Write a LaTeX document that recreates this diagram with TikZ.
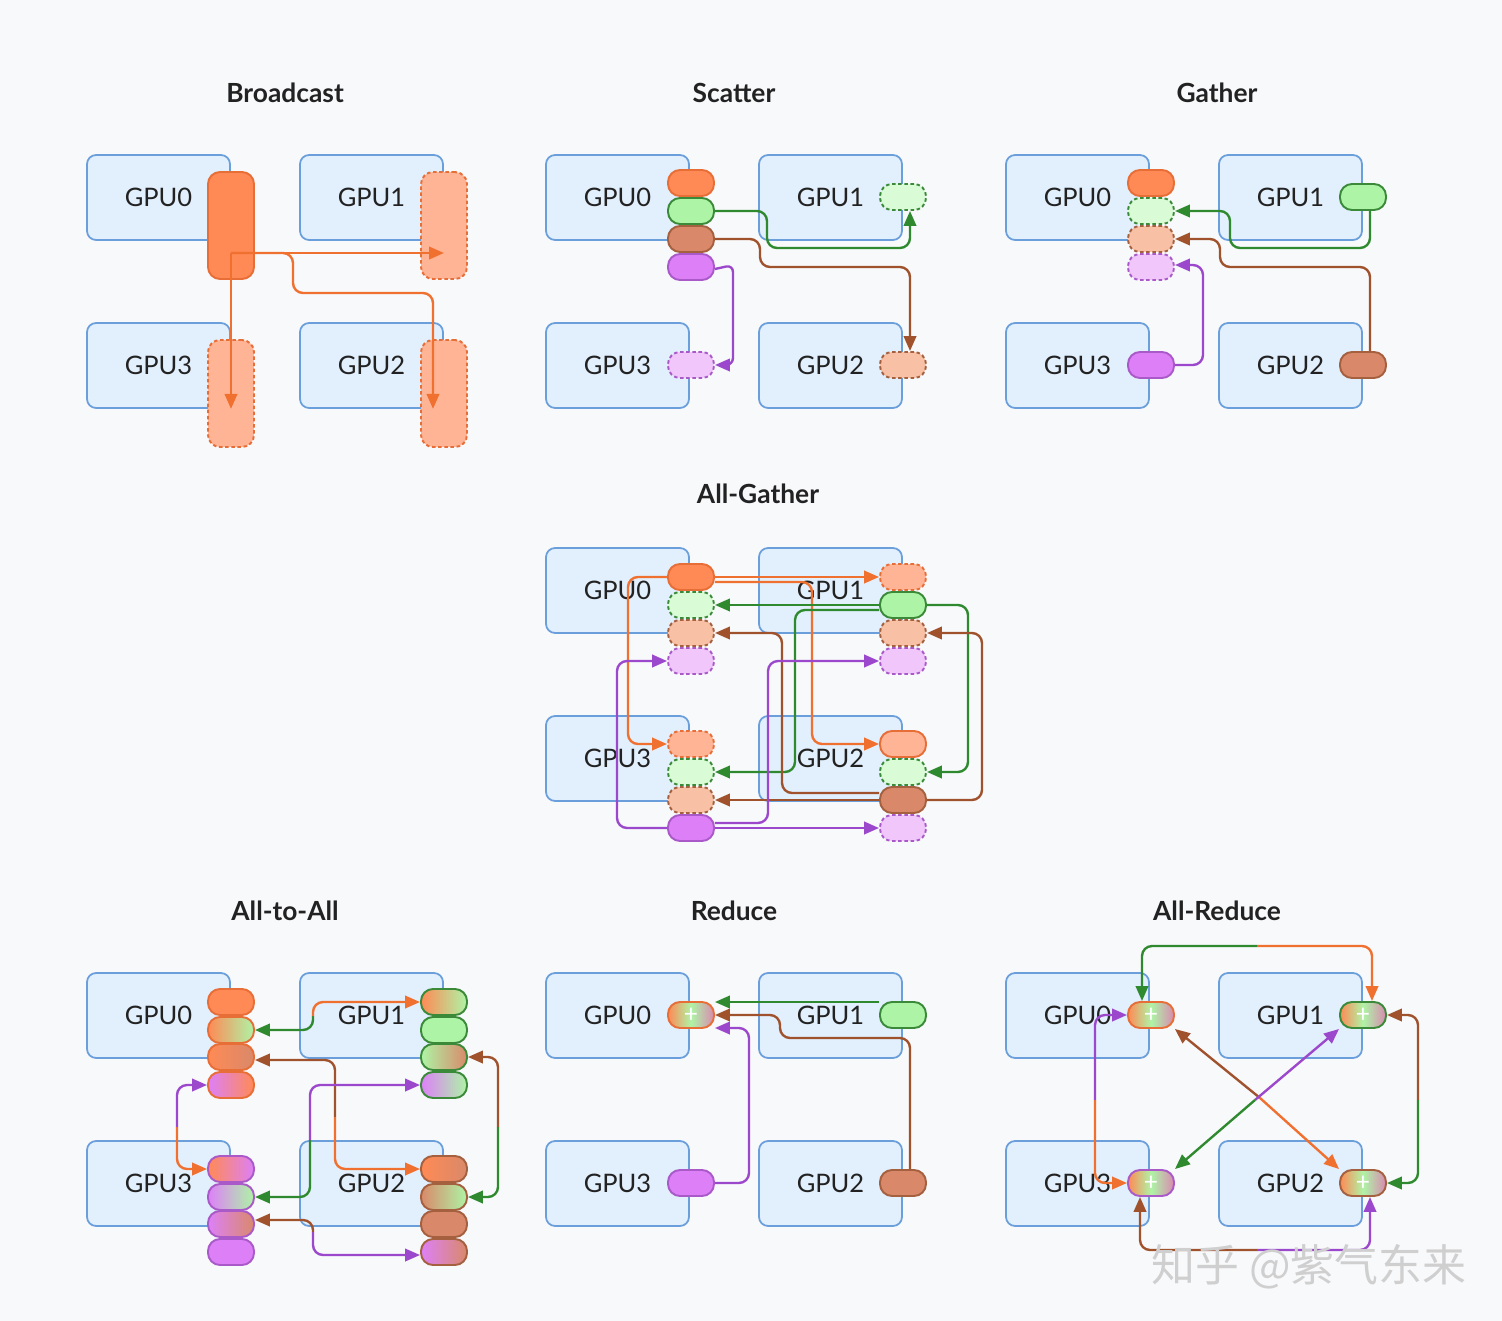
\documentclass[tikz,border=0pt]{standalone}
\usepackage{fontspec}
\setmainfont{Lato}
\newfontfamily\cjk{Noto Sans CJK SC}
\usetikzlibrary{arrows.meta}

\definecolor{bgcol}{HTML}{F8F9FB}
\definecolor{gpufill}{HTML}{E2EFFC}
\definecolor{gpudraw}{HTML}{6A9FDC}
\definecolor{txtcol}{HTML}{222222}
\definecolor{forange}{HTML}{FF8A55}
\definecolor{borange}{HTML}{E86E38}
\definecolor{forangel}{HTML}{FFB496}
\definecolor{fgreen}{HTML}{AEF4A6}
\definecolor{bgreen}{HTML}{3A8A3A}
\definecolor{fgreenl}{HTML}{D9FBD5}
\definecolor{fbrown}{HTML}{D9896A}
\definecolor{bbrown}{HTML}{A4603F}
\definecolor{fbrownl}{HTML}{F8C0A4}
\definecolor{fpurple}{HTML}{DD80F8}
\definecolor{bpurple}{HTML}{A95AC8}
\definecolor{fpurplel}{HTML}{F0C6FB}
\definecolor{fsumr}{HTML}{D98AB0}
\definecolor{aorange}{HTML}{F07030}
\definecolor{agreen}{HTML}{2F8A2F}
\definecolor{abrown}{HTML}{A0522D}
\definecolor{apurple}{HTML}{9C48CC}
\definecolor{wmgray}{HTML}{CFCFCF}

\pgfdeclarehorizontalshading{sumgrad}{100bp}{color(0bp)=(forange); color(25bp)=(forange); color(50bp)=(fgreen); color(75bp)=(fsumr); color(100bp)=(fsumr)}

\begin{document}
\begin{tikzpicture}[x=0.02cm,y=-0.02cm,
	gpu/.style={draw=gpudraw, fill=gpufill, line width=1pt, rounded corners=0.18cm, minimum width=2.86cm, minimum height=1.7cm, text=txtcol, font=\fontsize{14.5}{17}\selectfont},
	title/.style={text=txtcol, font=\bfseries\fontsize{15}{18}\selectfont},
	chunk/.style={line width=1.1pt, rounded corners=0.24cm, minimum width=0.92cm, minimum height=0.52cm, inner sep=0pt},
	bigchunk/.style={minimum height=2.14cm},
	ochunk/.style={chunk, draw=borange, fill=forange},
	gchunk/.style={chunk, draw=bgreen, fill=fgreen},
	bchunk/.style={chunk, draw=bbrown, fill=fbrown},
	pchunk/.style={chunk, draw=bpurple, fill=fpurple},
	orecv/.style={chunk, draw=borange, fill=forangel, dash pattern=on 2pt off 1.5pt},
	grecv/.style={chunk, draw=bgreen, fill=fgreenl, dash pattern=on 2pt off 1.5pt},
	brecv/.style={chunk, draw=bbrown, fill=fbrownl, dash pattern=on 2pt off 1.5pt},
	precv/.style={chunk, draw=bpurple, fill=fpurplel, dash pattern=on 2pt off 1.5pt},
	sumchunk/.style={chunk, shade, shading=sumgrad, text=white, font=\fontsize{14}{14}\selectfont},
	arr/.style={line width=1.35pt, rounded corners=0.2cm, -{Triangle[length=0.3cm,width=0.25cm]}}]

	\fill[bgcol] (0,0) rectangle (1502,1321);
	\useasboundingbox (0,0) rectangle (1502,1321);

	% titles
	\node[title] (tbc) at (285,93) {Broadcast};
	\node[title] (tsc) at (734,93) {Scatter};
	\node[title] (tga) at (1217,93) {Gather};
	\node[title] (tag) at (758,494) {All-Gather};
	\node[title] (taa) at (285,911) {All-to-All};
	\node[title] (tre) at (734,911) {Reduce};
	\node[title] (tar) at (1217,911) {All-Reduce};

	% gpu boxes of every panel
	\foreach \p/\dx/\dy in {bc/0/0, sc/459/0, ga/919/0, ag/459/393, aa/0/818, re/459/818, ar/919/818} {
		\node[gpu] (\p0) at (158.5+\dx,197.5+\dy) {GPU0};
		\node[gpu] (\p1) at (371.5+\dx,197.5+\dy) {GPU1};
		\node[gpu] (\p2) at (371.5+\dx,365.5+\dy) {GPU2};
		\node[gpu] (\p3) at (158.5+\dx,365.5+\dy) {GPU3};
	}

	% Broadcast
	\node[ochunk,bigchunk] (bc0o) at (231,225.5) {};
	\node[orecv,bigchunk] (bc1o) at (444,225.5) {};
	\node[orecv,bigchunk] (bc3o) at (231,393.5) {};
	\node[orecv,bigchunk] (bc2o) at (444,393.5) {};
	\coordinate (bcsrc) at (231,253);
	\draw[arr,aorange] (bcsrc) -- (bc1o.center |- bcsrc);
	\draw[arr,aorange] (bcsrc) -- (bc3o.center |- bc3.south);
	\draw[arr,aorange] (bcsrc) -- (293,253) -- (293,293) -- (433,293) -- ([xshift=-0.22cm]bc2o.center |- bc2.south);

	% Scatter
	\node[ochunk] (sc0o) at (691,183) {};
	\node[gchunk] (sc0g) at (691,211) {};
	\node[bchunk] (sc0b) at (691,239) {};
	\node[pchunk] (sc0p) at (691,267) {};
	\node[grecv] (sc1g) at (903,197) {};
	\node[brecv] (sc2b) at (903,365) {};
	\node[precv] (sc3p) at (691,365) {};
	\draw[arr,agreen] (sc0g.east) -- (767,211) -- (767,248) -| ([xshift=0.14cm]sc1g.south);
	\draw[arr,abrown] (sc0b.east) -- (760,239) -- (760,267) -| ([xshift=0.14cm]sc2b.north);
	\draw[arr,apurple,rounded corners=0.14cm] ([yshift=-0.04cm]sc0p.east) -- (733,265) |- (sc3p.east);

	% Gather
	\node[ochunk] (ga0o) at (1151,183) {};
	\node[grecv] (ga0g) at (1151,211) {};
	\node[brecv] (ga0b) at (1151,239) {};
	\node[precv] (ga0p) at (1151,267) {};
	\node[gchunk] (ga1g) at (1363,197) {};
	\node[bchunk] (ga2b) at (1363,365) {};
	\node[pchunk] (ga3p) at (1151,365) {};
	\draw[arr,agreen] ([xshift=0.14cm]ga1g.south) |- (1230,248) -- (1230,211) -- (ga0g.east);
	\draw[arr,abrown] ([xshift=0.14cm]ga2b.north) |- (1220,267) -- (1220,239) -- (ga0b.east);
	\draw[arr,apurple] (ga3p.east) -- (1203,365) -- (1203,265) -- ([yshift=0.04cm]ga0p.east);

	% All-Gather
	\node[ochunk] (ag0o) at (691,577) {};
	\node[grecv] (ag0g) at (691,605) {};
	\node[brecv] (ag0b) at (691,633) {};
	\node[precv] (ag0p) at (691,661) {};
	\node[orecv] (ag1o) at (903,577) {};
	\node[gchunk] (ag1g) at (903,605) {};
	\node[brecv] (ag1b) at (903,633) {};
	\node[precv] (ag1p) at (903,661) {};
	\node[orecv] (ag3o) at (691,744) {};
	\node[grecv] (ag3g) at (691,772) {};
	\node[brecv] (ag3b) at (691,800) {};
	\node[pchunk] (ag3p) at (691,828) {};
	\node[chunk,draw=borange,fill=forangel] (ag2o) at (903,744) {};
	\node[grecv] (ag2g) at (903,772) {};
	\node[bchunk] (ag2b) at (903,800) {};
	\node[precv] (ag2p) at (903,828) {};
	\draw[arr,aorange] (ag0o.east) -- (ag1o.west);
	\draw[arr,aorange] ([yshift=-0.1cm]ag0o.east) -- (812,582) -- (812,744) -- (ag2o.west);
	\draw[arr,aorange] (ag0o.west) -- (628,577) -- (628,744) -- (ag3o.west);
	\draw[arr,agreen] (ag1g.west) -- (ag0g.east);
	\draw[arr,agreen] ([yshift=-0.1cm]ag1g.west) -- (795,610) -- (795,772) -- (ag3g.east);
	\draw[arr,agreen] (ag1g.east) -- (968,605) -- (968,772) -- (ag2g.east);
	\draw[arr,abrown] (ag2b.west) -- (ag3b.east);
	\draw[arr,abrown] ([yshift=0.14cm]ag2b.west) -- (782,793) -- (782,633) -- (ag0b.east);
	\draw[arr,abrown] (ag2b.east) -- (982,800) -- (982,633) -- (ag1b.east);
	\draw[arr,apurple] (ag3p.east) -- (ag2p.west);
	\draw[arr,apurple] (ag3p.west) -- (617,828) -- (617,661) -- (ag0p.west);
	\draw[arr,apurple] ([yshift=0.1cm]ag3p.east) -- (768,823) -- (768,661) -- (ag1p.west);

	% All-to-All
	\node[ochunk] (aa00) at (231,1002) {};
	\node[chunk,draw=borange,left color=forange,right color=fgreen] (aa01) at (231,1030) {};
	\node[chunk,draw=borange,left color=forange,right color=fbrown] (aa02) at (231,1057) {};
	\node[chunk,draw=borange,left color=fpurple,right color=forange] (aa03) at (231,1085) {};
	\node[chunk,draw=bgreen,left color=forange,right color=fgreen] (aa10) at (444,1002) {};
	\node[gchunk] (aa11) at (444,1030) {};
	\node[chunk,draw=bgreen,left color=fgreen,right color=fbrown] (aa12) at (444,1057) {};
	\node[chunk,draw=bgreen,left color=fpurple,right color=fgreen] (aa13) at (444,1085) {};
	\node[chunk,draw=bbrown,left color=forange,right color=fbrown] (aa20) at (444,1169) {};
	\node[chunk,draw=bbrown,left color=fbrown,right color=fgreen] (aa21) at (444,1197) {};
	\node[bchunk] (aa22) at (444,1224) {};
	\node[chunk,draw=bbrown,left color=fpurple,right color=fbrown] (aa23) at (444,1252) {};
	\node[chunk,draw=bpurple,left color=forange,right color=fpurple] (aa30) at (231,1169) {};
	\node[chunk,draw=bpurple,left color=fpurple,right color=fgreen] (aa31) at (231,1197) {};
	\node[chunk,draw=bpurple,left color=fpurple,right color=fbrown] (aa32) at (231,1224) {};
	\node[pchunk] (aa33) at (231,1252) {};
	\coordinate (aam1) at (313,1016);
	\coordinate (aam2) at (335,1117);
	\coordinate (aam3) at (177,1127);
	\coordinate (aam4) at (310,1140);
	\coordinate (aam5) at (498,1127);
	\coordinate (aam6) at (313,1232);
	\draw[arr,agreen] (aam1) -- (313,1030) -- (aa01.east);
	\draw[arr,aorange] (aam1) -- (313,1002) -- (aa10.west);
	\draw[arr,abrown] (aam2) -- (335,1060) -- ([yshift=-0.06cm]aa02.east);
	\draw[arr,aorange] (aam2) -- (335,1169) -- (aa20.west);
	\draw[arr,apurple] (aam3) -- (177,1085) -- (aa03.west);
	\draw[arr,aorange] (aam3) -- (177,1169) -- (aa30.west);
	\draw[arr,agreen] (aam4) -- (310,1197) -- (aa31.east);
	\draw[arr,apurple] (aam4) -- (310,1085) -- (aa13.west);
	\draw[arr,abrown] (aam5) -- (498,1057) -- (aa12.east);
	\draw[arr,agreen] (aam5) -- (498,1197) -- (aa21.east);
	\draw[arr,abrown] (aam6) -- (313,1220) -- ([yshift=0.08cm]aa32.east);
	\draw[arr,apurple] (aam6) -- (313,1255) -- ([yshift=-0.06cm]aa23.west);

	% Reduce
	\node[sumchunk,draw=borange] (re0s) at (691,1015) {+};
	\node[gchunk] (re1g) at (903,1015) {};
	\node[bchunk] (re2b) at (903,1183) {};
	\node[pchunk] (re3p) at (691,1183) {};
	\draw[arr,agreen] ([yshift=0.26cm]re1g.west) -- ([yshift=0.26cm]re0s.east);
	\draw[arr,abrown] ([xshift=0.14cm]re2b.north) |- (780,1038) -- (780,1015) -- (re0s.east);
	\draw[arr,apurple] (re3p.east) -- (749,1183) -- (749,1028) -- ([yshift=-0.26cm]re0s.east);

	% All-Reduce
	\node[sumchunk,draw=borange] (ar0s) at (1151,1015) {+};
	\node[sumchunk,draw=bgreen] (ar1s) at (1363,1015) {+};
	\node[sumchunk,draw=bbrown] (ar2s) at (1363,1183) {+};
	\node[sumchunk,draw=bpurple] (ar3s) at (1151,1183) {+};
	\coordinate (arm1) at (1257,946);
	\coordinate (arm2) at (1095,1100);
	\coordinate (arm3) at (1418,1100);
	\coordinate (arm4) at (1257,1250);
	\coordinate (arm5) at (1260,1098);
	\coordinate (arm6) at (1255,1100);
	\draw[arr,agreen] (arm1) -- (1142,946) -- ([xshift=-0.18cm]ar0s.north);
	\draw[arr,aorange] (arm1) -- (1372,946) -- ([xshift=0.18cm]ar1s.north);
	\draw[arr,apurple] (arm2) -- (1095,1015) -- (ar0s.west);
	\draw[arr,aorange] (arm2) -- (1095,1183) -- (ar3s.west);
	\draw[arr,abrown] (arm3) -- (1418,1015) -- (ar1s.east);
	\draw[arr,agreen] (arm3) -- (1418,1183) -- (ar2s.east);
	\draw[arr,abrown] (arm4) -- (1140,1250) -- ([xshift=-0.22cm]ar3s.south);
	\draw[arr,apurple] (arm4) -- (1370,1250) -- ([xshift=0.14cm]ar2s.south);
	\draw[arr,abrown] (arm5) -- (ar0s.south east);
	\draw[arr,aorange] (arm5) -- (ar2s.north west);
	\draw[arr,apurple] (arm6) -- (ar1s.south west);
	\draw[arr,agreen] (arm6) -- (ar3s.north east);

	\node[text=wmgray, font=\cjk\fontsize{25}{25}\selectfont] (wm) at (1309,1267) {知乎 @紫气东来};
\end{tikzpicture}
\end{document}
